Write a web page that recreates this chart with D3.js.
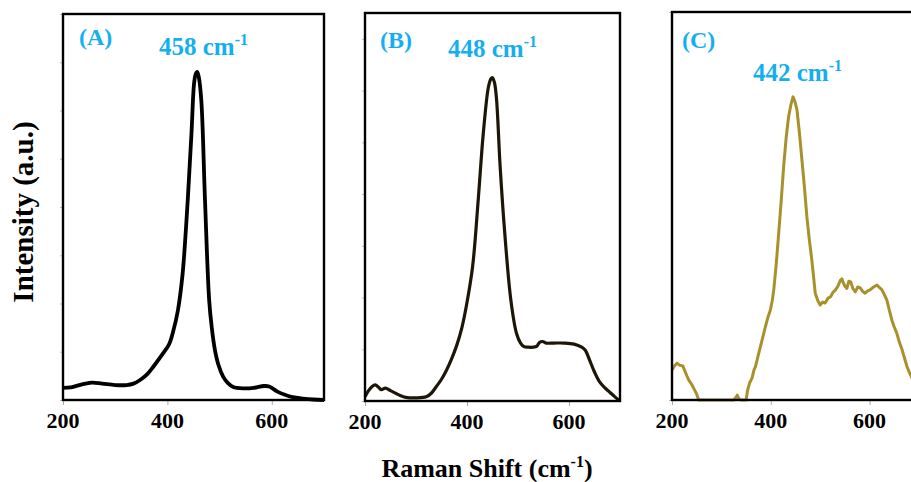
<!DOCTYPE html>
<html>
<head>
<meta charset="utf-8">
<script src="https://cdn.jsdelivr.net/npm/d3@7"></script>
<style>
  body { margin: 0; background: #fff; }
  svg { display: block; }
  text { font-family: "Liberation Serif", "Times New Roman", serif; font-weight: bold; }
</style>
</head>
<body>
<svg width="911" height="482"></svg>
<script>
// Raman shift (cm-1) and intensity (a.u.)
const shiftA = [200, 215, 235, 255, 275, 300, 322, 335, 347, 360, 373, 392, 403, 411, 420, 429, 439, 446, 451, 454, 457, 460, 465, 472, 480, 485, 491, 498, 507, 516, 526, 545, 565, 585, 595, 610, 625, 640, 660, 680, 700];
const intensityA = [0.25, 0.26, 0.32, 0.36, 0.34, 0.31, 0.31, 0.34, 0.41, 0.52, 0.69, 0.97, 1.15, 1.42, 1.85, 2.6, 4.15, 5.5, 6.55, 6.75, 6.8, 6.7, 6.2, 4.15, 2.07, 1.5, 1.04, 0.72, 0.48, 0.35, 0.27, 0.24, 0.25, 0.29, 0.28, 0.18, 0.11, 0.06, 0.03, 0.01, 0];

const shiftB = [200, 207, 214, 220, 226, 232, 240, 250, 260, 270, 280, 300, 320, 330, 340, 350, 360, 370, 380, 390, 399, 411, 422, 432, 442, 447, 450, 454, 458, 465, 474, 486, 497, 505, 512, 520, 530, 537, 542, 548, 555, 570, 590, 610, 625, 632, 640, 650, 660, 670, 680, 690, 700];
const intensityB = [0.08, 0.2, 0.28, 0.31, 0.27, 0.22, 0.25, 0.2, 0.15, 0.1, 0.07, 0.06, 0.08, 0.15, 0.28, 0.42, 0.6, 0.82, 1.08, 1.42, 1.85, 2.6, 3.89, 5.18, 6.07, 6.23, 6.25, 6.15, 5.82, 4.53, 3.25, 1.95, 1.31, 1.12, 1.05, 1.04, 1.04, 1.06, 1.13, 1.15, 1.12, 1.12, 1.12, 1.1, 1.04, 0.98, 0.8, 0.56, 0.37, 0.26, 0.17, 0.08, 0];

const shiftC = [200, 205, 210, 215, 222, 226, 230, 234, 240, 244, 250, 254, 270, 290, 310, 325, 330, 332, 335, 340, 350, 353, 357, 362, 366, 369, 374, 379, 384, 389, 394, 399, 403, 406, 411, 416, 421, 426, 431, 436, 441, 445, 449, 453, 458, 463, 468, 473, 478, 483, 487, 490, 495, 500, 505, 510, 516, 521, 526, 531, 536, 541, 544, 546, 550, 554, 558, 562, 566, 571, 576, 581, 586, 591, 596, 601, 608, 615, 620, 625, 630, 635, 640, 645, 650, 655, 660, 666, 671, 676, 680, 685, 692, 700];
const intensityC = [0.62, 0.7, 0.76, 0.72, 0.7, 0.6, 0.5, 0.41, 0.32, 0.24, 0.12, 0, 0, 0, 0, 0, 0.06, 0.1, 0.03, 0, 0, 0.2, 0.35, 0.45, 0.62, 0.69, 0.9, 1.1, 1.3, 1.51, 1.7, 1.85, 2.05, 2.27, 2.8, 3.44, 4.1, 4.81, 5.4, 5.84, 6.1, 6.25, 6.15, 5.98, 5.5, 4.95, 4.4, 3.78, 3.3, 2.89, 2.5, 2.2, 2.05, 1.96, 2.02, 2.0, 2.1, 2.13, 2.22, 2.27, 2.35, 2.47, 2.5, 2.43, 2.35, 2.3, 2.45, 2.43, 2.3, 2.23, 2.33, 2.31, 2.24, 2.2, 2.25, 2.27, 2.33, 2.37, 2.32, 2.27, 2.17, 2.06, 1.85, 1.65, 1.5, 1.38, 1.2, 1.03, 0.85, 0.68, 0.58, 0.47, 0.35, 0.25];

const xTicks = [200, 400, 600];
const panelLabels = ['(A)', '(B)', '(C)'];
const peakLabels = ['458', '448', '442'];

const cyan = '#15aff0';
const svg = d3.select('svg');

// layout for each panel (pixel frame, y range, styling)
const panels = [
  { x: shiftA, y: intensityA, left: 63, right: 324, top: 14, bottom: 400, yMax: 8, yTicks: d3.range(0, 9), color: '#000', width: 3.8, curve: d3.curveCatmullRom, lab: [79, 45], peak: [159, 55] },
  { x: shiftB, y: intensityB, left: 365, right: 620, top: 13, bottom: 401, yMax: 7.5, yTicks: d3.range(0, 8), color: '#1c1606', width: 3.2, curve: d3.curveCatmullRom, lab: [380, 48], peak: [448, 57] },
  { x: shiftC, y: intensityC, left: 672, right: 919, top: 12, bottom: 400, yMax: 8, yTicks: [0, 8], color: '#a8912b', width: 3, curve: d3.curveLinear, lab: [682, 48], peak: [753, 81] }
];

panels.forEach((p, i) => {
  const x = d3.scaleLinear().domain([200, 700]).range([p.left, p.right]);
  const y = d3.scaleLinear().domain([0, p.yMax]).range([p.bottom, p.top]);
  const g = svg.append('g');

  // small grey ticks
  g.append('g')
    .attr('transform', `translate(0,${p.bottom})`)
    .call(d3.axisBottom(x).tickValues(xTicks).tickSize(5).tickFormat(''))
    .call(a => a.select('.domain').remove())
    .selectAll('line').attr('stroke', '#aaa');
  g.append('g')
    .attr('transform', `translate(${p.left},0)`)
    .call(d3.axisLeft(y).tickValues(p.yTicks).tickSize(3).tickFormat(''))
    .call(a => a.select('.domain').remove())
    .selectAll('line').attr('stroke', '#bbb');

  // tick labels
  g.selectAll('.tl').data(xTicks).join('text')
    .attr('x', d => x(d)).attr('y', p.bottom + 28)
    .attr('text-anchor', 'middle')
    .attr('font-size', 22)
    .text(d => d);

  // spectrum
  const line = d3.line().x(d => x(d[0])).y(d => y(d[1])).curve(p.curve);
  g.append('path')
    .datum(d3.zip(p.x, p.y))
    .attr('fill', 'none')
    .attr('stroke', p.color)
    .attr('stroke-width', p.width)
    .attr('stroke-linejoin', 'round')
    .attr('d', line);

  // frame
  g.append('rect')
    .attr('x', p.left).attr('y', p.top)
    .attr('width', p.right - p.left).attr('height', p.bottom - p.top)
    .attr('fill', 'none').attr('stroke', '#000').attr('stroke-width', 2.4);

  g.append('text')
    .attr('x', p.lab[0]).attr('y', p.lab[1])
    .attr('font-size', 24).attr('fill', cyan)
    .text(panelLabels[i]);

  const pk = g.append('text')
    .attr('x', p.peak[0]).attr('y', p.peak[1])
    .attr('font-size', 25).attr('fill', cyan);
  pk.append('tspan').text(peakLabels[i] + ' cm');
  pk.append('tspan').attr('font-size', 16).attr('dy', -10).text('-1');
});

// axis titles
svg.append('text')
  .attr('transform', 'translate(33,212) rotate(-90)')
  .attr('text-anchor', 'middle')
  .attr('font-size', 29)
  .text('Intensity (a.u.)');

const xt = svg.append('text')
  .attr('x', 487).attr('y', 477)
  .attr('text-anchor', 'middle')
  .attr('font-size', 26);
xt.append('tspan').text('Raman Shift (cm');
xt.append('tspan').attr('font-size', 16).attr('dy', -10).text('-1');
xt.append('tspan').attr('dy', 10).text(')');
</script>
</body>
</html>
